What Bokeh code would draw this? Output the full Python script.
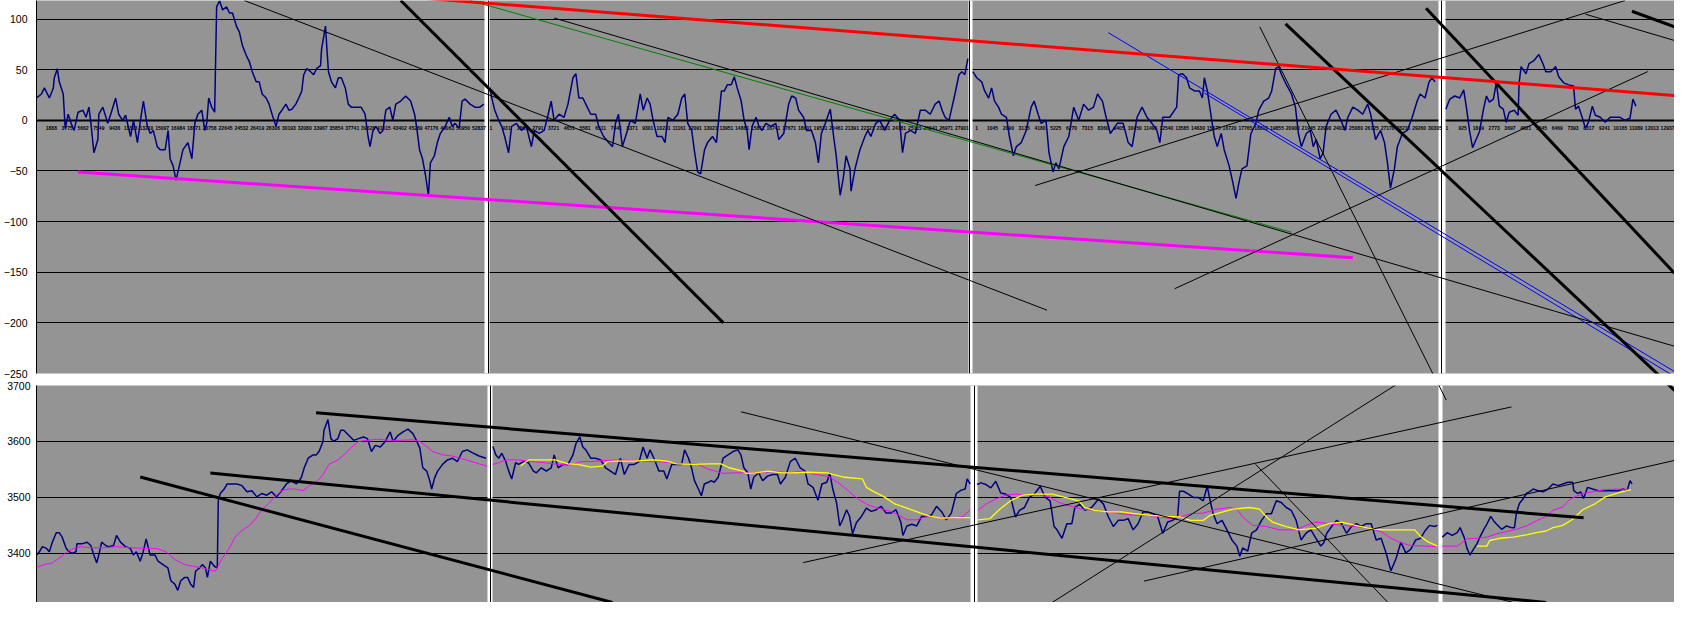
import numpy as np
from bokeh.plotting import figure
from bokeh.layouts import column
from bokeh.models import Range1d, FixedTicker
from bokeh.core.properties import value
from bokeh.embed import file_html
from bokeh.resources import INLINE

# ---------------- upper panel (oscillator) ----------------
T_TOP1 = [35,40,43,48,52,53,56,58,62,64,
          67,70,73,77,82,85,88,90,93,97,
          98,102,107,110,115,118,122,125,130,133,
          137,140,143,147,150,153,157,160,165,168,
          170,173,176,180,183,188,192,195,198,202,
          205,207,209,212,215,217,220,223,227,230,
          233,237,240,243,247,250,253,257,260,263,
          267,270,273,277,280,283,287,290,293,297,
          300,303,305,308,312,315,318,322,323,327,
          328,330,333,337,340,343,347,350,353,358,
          363,367,370,372,375,378,382,385,388,392,
          395,398,403,408,413,417,419,422,425,428,
          431,433,437,440,443,448,452,455,458,462,
          465,468,473,478,483,487]
V_TOP1 = [22,26,32,22,32,42,51,38,26,-8,
          6,-3,-10,8,10,3,13,-3,-32,-19,
          6,13,-3,6,22,6,0,5,-16,0,
          -22,0,19,-6,-13,-10,-26,-29,-29,-10,
          -38,-45,-59,-42,-29,-22,-38,-3,6,10,
          -10,-3,22,13,8,112,118,109,112,106,
          106,93,87,74,64,58,48,38,38,26,
          22,16,6,-6,6,10,16,10,11,16,
          22,29,45,51,48,45,51,54,70,93,
          77,48,38,32,42,42,32,16,13,13,
          13,6,-16,-26,-10,-6,-13,-10,10,13,
          0,16,19,24,19,6,-6,-29,-38,-54,
          -74,-42,-35,-22,-13,-6,3,-6,-3,-8,
          19,21,16,13,13,16]

T_TOP2 = [493,495,498,502,505,508,512,515,520,525,
          530,535,538,543,548,552,555,558,563,568,
          572,577,580,583,587,590,595,600,603,608,
          613,617,620,623,627,632,635,640,645,648,
          652,655,658,662,667,670,673,678,683,687,
          690,693,697,700,703,706,710,713,718,722,
          727,730,733,737,740,743,747,750,753,755,
          758,762,765,768,772,777,782,785,790,795,
          798,802,805,810,813,818,822,825,828,832,
          837,840,843,847,850,853,857,858,862,867,
          872,875,878,883,887,892,897,902,907,910,
          913,918,923,928,933,938,943,947,950,953,
          957,960,963,967,970,973,976]
V_TOP2 = [32,22,10,0,-6,-16,-32,-6,-3,-10,
          -6,-26,-10,-13,-10,6,19,0,6,3,
          16,42,46,22,22,16,6,6,-6,-16,
          -22,-26,-3,6,-26,-10,0,-3,26,10,
          22,16,0,-16,-16,-22,3,0,6,22,
          26,-3,-10,-32,-51,-53,-29,-22,-16,-22,
          29,29,35,35,43,32,19,0,-10,-29,
          -6,3,-6,-10,-3,-6,-3,-19,-13,16,
          24,22,10,3,-10,-10,-22,-42,-13,-3,
          11,-13,-35,-74,-58,-35,-48,-70,-48,-29,
          -16,-10,-16,-3,0,-10,0,6,0,-32,
          -13,-10,-13,10,10,6,16,19,10,3,
          0,13,26,45,48,45,61]

T_TOP3 = [981,985,990,993,997,1000,1003,1007,1010,1015,
          1018,1022,1025,1030,1035,1040,1043,1047,1050,1055,
          1058,1062,1065,1068,1073,1078,1083,1088,1093,1098,
          1103,1107,1112,1115,1120,1127,1133,1138,1142,1147,
          1152,1157,1162,1167,1170,1173,1180,1187,1189,1193,
          1197,1200,1205,1210,1213,1215,1218,1222,1225,1228,
          1232,1235,1240,1243,1247,1250,1253,1258,1262,1267,
          1270,1275,1280,1283,1287,1290,1293,1298,1303,1307,
          1310,1313,1318,1322,1325,1328,1332,1335,1338,1343,
          1348,1353,1357,1360,1365,1370,1375,1380,1383,1388,
          1393,1397,1400,1403,1407,1410,1415,1420,1425,1430,
          1433,1438,1442,1445,1448]
V_TOP3 = [48,42,38,29,22,32,19,13,6,3,
          -16,-35,-26,-22,-10,13,19,6,-3,0,
          -32,-51,-42,-48,-26,-16,13,0,16,10,
          13,26,19,6,-13,-3,-3,-22,-26,3,
          13,3,-3,-10,-22,3,3,13,45,46,
          42,32,29,29,22,42,29,3,-16,-26,
          -13,-29,-45,-58,-77,-61,-48,-45,-13,-3,
          10,19,22,29,51,53,45,35,26,13,
          -13,-26,-13,-10,-26,-19,-38,-32,-6,6,
          10,0,-10,3,13,10,6,16,6,-19,
          -10,-22,-42,-67,-48,-26,-13,-10,3,19,
          26,22,38,42,38]

T_TOP4 = [1459,1463,1468,1473,1477,1480,1483,1486,1490,1493,
          1497,1500,1503,1507,1510,1513,1517,1520,1523,1528,
          1532,1533,1535,1540,1543,1548,1553,1557,1560,1565,
          1570,1573,1578,1583,1588,1590,1593,1597,1600,1603,
          1607,1610,1615,1620,1625,1630,1635,1640,1645,1648,
          1651]
V_TOP4 = [11,21,24,22,30,11,-11,-27,-18,-11,
          11,24,18,21,37,14,11,-2,8,10,
          5,37,53,46,56,59,65,56,48,48,
          53,43,37,35,34,11,14,2,-8,-2,
          14,5,3,-2,3,3,3,0,2,21,
          14]

TOP_TICKS = [-250, -200, -150, -100, -50, 0, 50, 100]

# tiny category labels printed under the zero line of each window
LBL1 = ["1888","3775","5662","7549","9436","11323","13210","15097","16984","18871",
        "20758","22645","24532","26419","28306","30193","32080","33967","35854","37741",
        "39628","41515","43402","45289","47176","49063","50950","52837"]
LBL2 = ["1","931","1861","2791","3721","4651","5581","6511","7441","8371",
        "9301","10231","11161","12091","13021","13951","14881","15811","16741","17671",
        "18601","19531","20461","21391","22321","23251","24181","25111","26041","26971","27901"]
LBL3 = ["1","1045","2090","3135","4180","5225","6270","7315","8360","9405",
        "10450","11495","12540","13585","14630","15675","16720","17765","18810","19855",
        "20900","21945","22990","24035","25080","26125","27170","28215","29260","30305"]
LBL4 = ["1","925","1849","2773","3697","4621","5545","6469","7393","8317",
        "9241","10165","11089","12013","12937"]

# trend lines (t0, v0, t1, v1) in upper-panel units
TOP_THIN = [(245, 118.3, 1056, -187.5), (558, 101.0, 1690, -223.1),
            (1271, 92.3, 1459, -276.0), (1044, -64.4, 1640, 118.3),
            (1185, -166.3, 1663, 48.1), (1600, 104.8, 1690, 78.8)]
TOP_THICK = [(403, 118.3, 729, -200.0), (1297, 95.2, 1690, -266.3),
             (1439, 110.6, 1690, -151.0), (1647, 107.7, 1690, 92.3)]
TOP_RED = [(420, 121.0, 1690, 24.5)]
TOP_MAGENTA = [(77, -51.0, 1365, -135.6)]
TOP_GREEN = [(473, 118.3, 1303, -110.6)]
TOP_BLUE = [(1118, 86.5, 1690, -248.1), (1215, 26.9, 1690, -252.9)]

# ---------------- lower panel (price) ----------------
T_BOT1 = [32,35,38,42,45,48,52,55,58,62,
          65,68,72,73,78,83,87,90,93,95,
          98,102,105,110,113,117,122,127,130,133,
          137,140,143,147,152,155,160,165,168,172,
          175,178,182,185,188,191,193,197,200,203,
          205,208,212,215,216,218,222,225,230,235,
          240,245,250,255,260,265,270,275,280,285,
          290,295,300,303,307,312,315,318,322,323,
          327,330,333,337,340,343,348,353,358,363,
          367,371,375,380,385,390,393,398,403,408,
          413,417,420,423,427,430,432,435,438,443,
          448,453,458,463,468,473,480,487]
V_BOT1 = [3397,3403,3412,3409,3403,3420,3437,3437,3429,3409,
          3403,3400,3403,3417,3417,3420,3414,3397,3383,3397,
          3420,3414,3412,3414,3432,3420,3412,3409,3397,3403,
          3386,3403,3426,3397,3397,3386,3380,3374,3351,3345,
          3334,3351,3357,3357,3345,3339,3368,3374,3380,3374,
          3357,3386,3377,3374,3495,3507,3515,3524,3524,3524,
          3521,3510,3512,3501,3507,3504,3510,3501,3512,3524,
          3530,3524,3535,3553,3570,3576,3576,3582,3600,3620,
          3639,3605,3600,3605,3620,3620,3611,3602,3605,3608,
          3605,3582,3593,3590,3600,3617,3600,3611,3617,3622,
          3614,3600,3588,3553,3547,3530,3515,3535,3547,3559,
          3567,3570,3564,3582,3585,3580,3574,3570]
T_MA1 = [32,40,48,57,63,70,77,87,100,113,
         127,140,153,163,173,182,190,200,213,220,
         227,233,240,247,253,260,267,273,280,287,
         293,302,308,317,322,328,337,343,350,358,
         367,377,390,400,413,420,427,433,443,453,
         467,480,488]
V_MA1 = [3375,3380,3383,3394,3403,3409,3412,3410,3410,3412,
         3410,3409,3409,3403,3388,3380,3377,3374,3368,3391,
         3409,3429,3441,3449,3460,3478,3489,3501,3512,3515,
         3515,3512,3521,3530,3541,3559,3567,3576,3588,3600,
         3602,3604,3602,3602,3603,3600,3591,3582,3576,3574,
         3567,3560,3556]

T_BOT2 = [494,497,500,503,507,510,513,517,520,525,
          530,535,538,543,548,553,556,560,565,570,
          575,578,582,585,588,593,598,603,608,613,
          618,623,627,632,637,642,646,650,653,657,
          662,667,670,675,680,685,688,692,695,698,
          702,705,708,712,715,718,722,727,732,737,
          742,745,748,752,755,758,763,767,772,777,
          782,785,790,795,800,805,810,813,818,823,
          827,832,835,838,842,845,848,852,855,858,
          862,867,872,877,882,887,892,897,902,907,
          909,913,918,923,928,933,938,943,948,953,
          958,963,968,972,974,977]
V_BOT2 = [3591,3576,3570,3579,3564,3547,3533,3562,3559,3564,
          3562,3547,3544,3553,3547,3553,3576,3553,3559,3559,
          3576,3596,3608,3590,3585,3570,3570,3567,3553,3547,
          3541,3570,3541,3559,3559,3564,3590,3570,3585,3570,
          3547,3547,3533,3559,3559,3559,3585,3570,3553,3530,
          3515,3503,3524,3527,3530,3527,3536,3570,3576,3582,
          3585,3576,3553,3544,3515,3536,3544,3530,3538,3541,
          3541,3524,3536,3564,3570,3553,3547,3524,3518,3495,
          3524,3527,3544,3515,3489,3449,3460,3478,3466,3435,
          3455,3466,3481,3475,3478,3484,3472,3472,3478,3455,
          3432,3449,3452,3449,3466,3466,3469,3484,3475,3460,
          3472,3507,3513,3515,3533,3524]
T_MA2 = [494,500,507,520,533,547,560,573,583,593,
         607,620,633,647,660,673,687,700,713,727,
         740,753,767,780,793,807,820,833,843,853,
         863,873,883,897,907,913,923,933,947,960,
         970,977]
V_MA2 = [3559,3562,3567,3567,3564,3562,3559,3558,3564,3564,
         3566,3567,3566,3564,3564,3562,3560,3560,3550,3543,
         3544,3544,3544,3547,3544,3547,3541,3538,3527,3513,
         3498,3487,3481,3475,3466,3460,3460,3466,3463,3463,
         3466,3478]
T_YE2 = [522,530,540,557,570,580,593,605,610,620,
         637,657,670,680,697,713,725,733,747,750,
         760,773,787,797,813,833,838,850,868,872,
         880,890,900,913,927,937,947,963,977]
V_YE2 = [3556,3567,3567,3567,3560,3559,3554,3556,3564,3565,
         3565,3567,3565,3560,3559,3560,3560,3553,3547,3543,
         3544,3547,3544,3544,3545,3544,3541,3536,3533,3518,
         3510,3501,3489,3481,3472,3466,3463,3464,3464]

T_BOT3 = [984,988,993,998,1003,1008,1013,1018,1023,1027,
          1032,1037,1042,1048,1053,1058,1062,1065,1070,1075,
          1080,1083,1088,1093,1100,1107,1112,1117,1122,1127,
          1132,1137,1142,1147,1152,1157,1162,1167,1172,1177,
          1182,1187,1189,1193,1198,1203,1208,1213,1217,1220,
          1223,1227,1232,1237,1242,1247,1250,1253,1258,1262,
          1267,1272,1277,1282,1287,1292,1297,1302,1307,1312,
          1317,1322,1327,1332,1335,1338,1343,1348,1353,1358,
          1363,1368,1373,1378,1383,1388,1393,1398,1403,1408,
          1413,1418,1423,1428,1433,1437,1442,1447,1450]
V_BOT3 = [3523,3526,3523,3517,3529,3508,3506,3500,3465,3477,
          3482,3500,3506,3520,3500,3494,3448,3442,3427,3453,
          3453,3482,3488,3477,3482,3497,3488,3465,3448,3459,
          3459,3462,3442,3453,3474,3474,3471,3465,3436,3456,
          3459,3465,3511,3511,3506,3500,3500,3494,3520,3494,
          3471,3453,3459,3442,3424,3413,3395,3410,3404,3436,
          3442,3459,3471,3471,3494,3491,3482,3477,3459,3424,
          3436,3442,3427,3413,3419,3436,3448,3459,3453,3436,
          3448,3453,3448,3453,3453,3424,3427,3401,3369,3390,
          3420,3401,3407,3424,3427,3439,3450,3448,3450]
T_MA3 = [985,993,1003,1013,1023,1033,1047,1057,1067,1077,
         1090,1103,1117,1130,1143,1157,1170,1180,1190,1200,
         1213,1227,1240,1247,1253,1263,1277,1290,1307,1317,
         1327,1340,1353,1367,1380,1393,1403,1413,1423,1437,
         1450]
V_MA3 = [3477,3488,3497,3504,3506,3504,3504,3501,3491,3485,
         3479,3477,3474,3471,3468,3468,3465,3462,3465,3471,
         3472,3479,3482,3479,3465,3450,3448,3442,3442,3450,
         3456,3453,3450,3448,3445,3439,3427,3419,3414,3413,
         3412]
T_YE3 = [985,997,1007,1018,1030,1043,1060,1073,1087,1093,
         1103,1117,1130,1143,1160,1177,1190,1200,1213,1220,
         1233,1243,1260,1270,1277,1283,1297,1310,1327,1340,
         1353,1367,1380,1393,1410,1427,1433,1440,1450]
V_YE3 = [3460,3462,3479,3494,3504,3506,3506,3500,3494,3482,
         3477,3474,3474,3471,3468,3466,3465,3459,3459,3468,
         3474,3479,3482,3479,3465,3456,3448,3442,3445,3453,
         3456,3450,3445,3442,3442,3442,3430,3421,3413]

T_BOT4 = [1455,1460,1465,1470,1473,1477,1480,1483,1487,1490,
          1493,1497,1500,1504,1507,1510,1515,1520,1525,1528,
          1530,1533,1537,1540,1543,1547,1552,1557,1562,1567,
          1572,1577,1582,1587,1588,1592,1595,1598,1602,1607,
          1613,1620,1627,1633,1638,1642,1645,1647]
V_BOT4 = [3429,3437,3432,3437,3446,3429,3409,3397,3409,3417,
          3429,3443,3452,3466,3458,3452,3443,3449,3446,3446,
          3472,3489,3498,3507,3510,3515,3512,3510,3515,3524,
          3521,3524,3527,3527,3512,3507,3510,3498,3518,3515,
          3512,3512,3512,3512,3515,3512,3530,3524]
T_MA4 = [1455,1470,1480,1490,1500,1510,1520,1530,1540,1550,
         1560,1567,1577,1583,1590,1600,1610,1620,1633,1646]
V_MA4 = [3413,3413,3426,3427,3429,3435,3439,3443,3449,3458,
         3466,3477,3483,3495,3502,3508,3511,3514,3515,3514]
T_YE4 = [1490,1500,1503,1513,1527,1540,1550,1560,1567,1577,
         1587,1597,1610,1620,1633,1646]
V_YE4 = [3413,3413,3423,3427,3429,3433,3437,3440,3446,3450,
         3461,3478,3489,3501,3508,3514]

BOT_TICKS = [3400, 3500, 3600, 3700]

BOT_THICK = [(315, 3651.3, 1598, 3463.5), (208, 3543.5, 1560, 3312.2),
             (137, 3536.5, 615, 3312.2), (1297, 4345.2, 1690, 3691.3)]
BOT_THIN = [(745, 3653.0, 1527, 3312.2), (808, 3383.5, 1525, 3661.7),
            (1060, 3312.2, 1421, 3715.7), (1153, 3350.4, 1690, 3566.1),
            (1266, 3559.1, 1400, 3312.2), (1271, 4340.0, 1459, 3673.9)]

# ---------------- styling ----------------
GRAY = "#949494"
NAVY = "#000080"
FONT = "Liberation Sans"


def segs(p, lines, color, width):
    x0, y0, x1, y1 = zip(*lines)
    p.segment(x0=list(x0), y0=list(y0), x1=list(x1), y1=list(y1),
              line_color=color, line_width=width)


def style_axis(p, ticks, grid_ticks, standoff):
    p.yaxis.ticker = FixedTicker(ticks=ticks)
    p.yaxis.major_tick_out = 0
    p.yaxis.major_tick_in = 0
    p.yaxis.minor_tick_out = 0
    p.yaxis.minor_tick_in = 0
    p.yaxis.axis_line_color = "black"
    p.yaxis.major_label_standoff = standoff
    p.yaxis.major_label_text_font = FONT
    p.yaxis.major_label_text_font_size = "10.5px"
    p.yaxis.major_label_text_color = "black"
    p.xgrid.visible = False
    p.ygrid.ticker = FixedTicker(ticks=grid_ticks)
    p.ygrid.grid_line_color = "black"
    p.ygrid.grid_line_width = 1
    p.ygrid.grid_line_alpha = 1.0


# ---- upper figure ----
top = figure(width=1674, height=379, x_range=Range1d(35, 1690), y_range=Range1d(-250, 118.3),
             output_backend="svg", toolbar_location=None, tools="", x_axis_location=None,
             min_border_left=35, min_border_right=0, min_border_top=0, min_border_bottom=6,
             background_fill_color=GRAY, border_fill_color="white", outline_line_color=None)
style_axis(top, TOP_TICKS, [-200, -150, -100, -50, 50, 100], 9)

top.hspan(y=[0], line_color="black", line_width=2)
top.vstrip(x0=[488, 977, 1452], x1=[493, 981, 1459], fill_color="white", line_color=None)
top.vspan(x=[491.5, 977.5, 1455], line_color="black", line_width=1)

for labels, a, b in ((LBL1, 50, 482), (LBL2, 494, 970), (LBL3, 985, 1448), (LBL4, 1460, 1683)):
    xs = np.linspace(a, b, len(labels))
    top.text(x=xs, y=[-7.2] * len(labels), text=labels, text_font=value(FONT),
             text_font_size=value("5px"), text_font_style="bold",
             text_align="center", text_baseline="middle", text_color="black")

for t, v in ((T_TOP1, V_TOP1), (T_TOP2, V_TOP2), (T_TOP3, V_TOP3), (T_TOP4, V_TOP4)):
    top.line(t, v, line_color=NAVY, line_width=1.5)

segs(top, TOP_MAGENTA, "#FF00FF", 3)
segs(top, TOP_GREEN, "#008000", 1)
segs(top, TOP_BLUE, "#0000FF", 1)
segs(top, TOP_THIN, "black", 1)
segs(top, TOP_THICK, "black", 3)
segs(top, TOP_RED, "#FF0000", 3)

# ---- lower figure ----
bot = figure(width=1674, height=223, x_range=Range1d(32, 1690), y_range=Range1d(3312.2, 3700),
             output_backend="svg", toolbar_location=None, tools="", x_axis_location=None,
             min_border_left=32, min_border_right=0, min_border_top=6, min_border_bottom=0,
             background_fill_color=GRAY, border_fill_color="white", outline_line_color=None)
style_axis(bot, BOT_TICKS, [3400, 3500, 3600], 6)

bot.vstrip(x0=[489, 977, 1451], x1=[494, 984, 1455], fill_color="white", line_color=None)
bot.vspan(x=[491.5, 981], line_color="black", line_width=1)

for t, v in ((T_BOT1, V_BOT1), (T_BOT2, V_BOT2), (T_BOT3, V_BOT3), (T_BOT4, V_BOT4)):
    bot.line(t, v, line_color=NAVY, line_width=1.5)
for t, v in ((T_MA1, V_MA1), (T_MA2, V_MA2), (T_MA3, V_MA3), (T_MA4, V_MA4)):
    bot.line(t, v, line_color="#FF00FF", line_width=1)
for t, v in ((T_YE2, V_YE2), (T_YE3, V_YE3), (T_YE4, V_YE4)):
    bot.line(t, v, line_color="#FFFF00", line_width=1.3)

segs(bot, BOT_THIN, "black", 1)
segs(bot, BOT_THICK, "black", 3)

layout = column(top, bot, spacing=0)
open("out.html", "w").write(file_html(layout, INLINE))
